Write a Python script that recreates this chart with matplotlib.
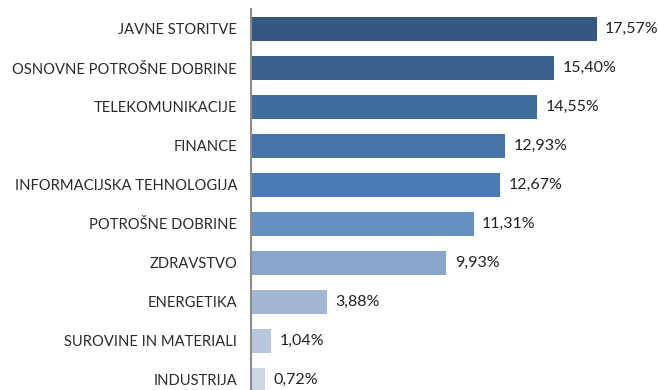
import matplotlib
matplotlib.use("Agg")
import matplotlib.pyplot as plt

categories = [
    "JAVNE STORITVE",
    "OSNOVNE POTROŠNE DOBRINE",
    "TELEKOMUNIKACIJE",
    "FINANCE",
    "INFORMACIJSKA TEHNOLOGIJA",
    "POTROŠNE DOBRINE",
    "ZDRAVSTVO",
    "ENERGETIKA",
    "SUROVINE IN MATERIALI",
    "INDUSTRIJA",
]
values = [17.57, 15.40, 14.55, 12.93, 12.67, 11.31, 9.93, 3.88, 1.04, 0.72]
colors = [
    "#355880", "#3B5F8D", "#416C9E", "#4574A9", "#4A7BB6",
    "#6790C2", "#8AA5CD", "#A3B6D6", "#B8C6E0", "#CDD7E8",
]

W, H = 658, 390
fig = plt.figure(figsize=(W / 100, H / 100), dpi=100)
ax = fig.add_axes([251 / W, 0, 400 / W, (H - 9) / H])

ypos = list(range(len(categories)))
ax.barh(ypos, values, height=0.615, color=colors, left=0)

ax.set_xlim(0, 400 / 19.68)
ax.set_ylim((H - 29) / 39, -20 / 39)

for y, v in zip(ypos, values):
    ax.text(v + 0.42, y, f"{v:.2f}".replace(".", ",") + "%",
            va="center", ha="left", fontsize=11.5, color="#222222",
            family="Lato")

ax.set_yticks(ypos)
ax.set_yticklabels(categories, fontsize=10.6, color="#2a2a2a", family="Lato")
ax.tick_params(axis="y", length=0, pad=10)
ax.set_xticks([])

for s in ["top", "right", "bottom"]:
    ax.spines[s].set_visible(False)
ax.spines["left"].set_color("#8c8c8c")
ax.spines["left"].set_linewidth(1.5)

fig.savefig("out.png", dpi=100)
